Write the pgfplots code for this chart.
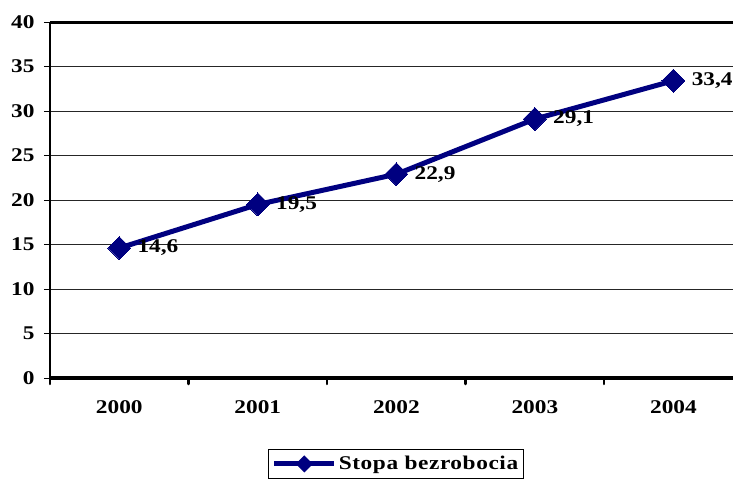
\documentclass[border=0pt]{standalone}
\usepackage{fontspec}
\setmainfont{Liberation Serif}
\newfontfamily\lblfont{Liberation Serif}[FakeStretch=1.2]
\usepackage{pgfplots}
\pgfplotsset{compat=1.18}
\definecolor{navy}{RGB}{0,0,128}
\newcommand{\lbl}{\lblfont\fontsize{19.5}{19.5}\selectfont\bfseries}
\begin{document}
\begin{tikzpicture}[x=1bp,y=1bp]
\begin{axis}[
 at={(0,0)}, anchor=south west,
 scale only axis, width=683bp, height=356bp,
 xmin=-0.5, xmax=4.43, ymin=0, ymax=40,
 clip=false,
 axis x line*=bottom, axis y line*=left,
 x axis line style={line width=3.5bp, -},
 y axis line style={line width=2bp, -},
 ytick={0,5,...,40},
 ymajorgrids, grid style={line width=1bp, black!85},
 xtick={-0.5,0.5,1.5,2.5,3.5}, xticklabels={},
 extra x ticks={0,1,2,3,4},
 extra x tick labels={2000,2001,2002,2003,2004},
 extra x tick style={major tick length=0pt, grid=none},
 x tick style={line width=2.5bp, line cap=round, black},
 y tick style={line width=1bp, black},
 tick align=outside,
 major tick length=6bp,
 /pgf/number format/assume math mode=true,
 ticklabel style={font=\lbl},
 xticklabel style={yshift=-19bp},
 yticklabel style={xshift=-6bp},
 legend style={at={(0.5066,-0.199)}, anchor=north, draw=black, line width=1.2bp,
   font=\lbl, inner xsep=3bp, inner ysep=5bp, legend cell align=left},
 legend image code/.code={
   \draw[navy, line width=5bp] (-4bp,0bp) -- (56bp,0bp);
   \fill[navy] (26bp,-5bp) -- (31bp,0bp) -- (26bp,5bp) -- (21bp,0bp) -- cycle;
 },
 nodes near coords, point meta=explicit symbolic,
 every node near coord/.style={font=\lbl, anchor=west, xshift=15bp, yshift=0bp, black},
]
\addplot[navy, line width=5bp, mark=square*, mark size=8.1bp, mark options={rotate=45, fill=navy, line width=0bp}]
 coordinates {(0,14.6) [14,6] (1,19.5) [19,5] (2,22.9) [22,9] (3,29.1) [29,1] (4,33.4) [33,4]};
\addlegendentry{\addfontfeature{LetterSpace=3}Stopa bezrobocia}
\draw[line width=3bp] (axis cs:-0.5,40) -- (axis cs:4.43,40);
\end{axis}
\pgfresetboundingbox
\path[use as bounding box] (-50bp,-102bp) rectangle (683bp,378bp);
\end{tikzpicture}
\end{document}
